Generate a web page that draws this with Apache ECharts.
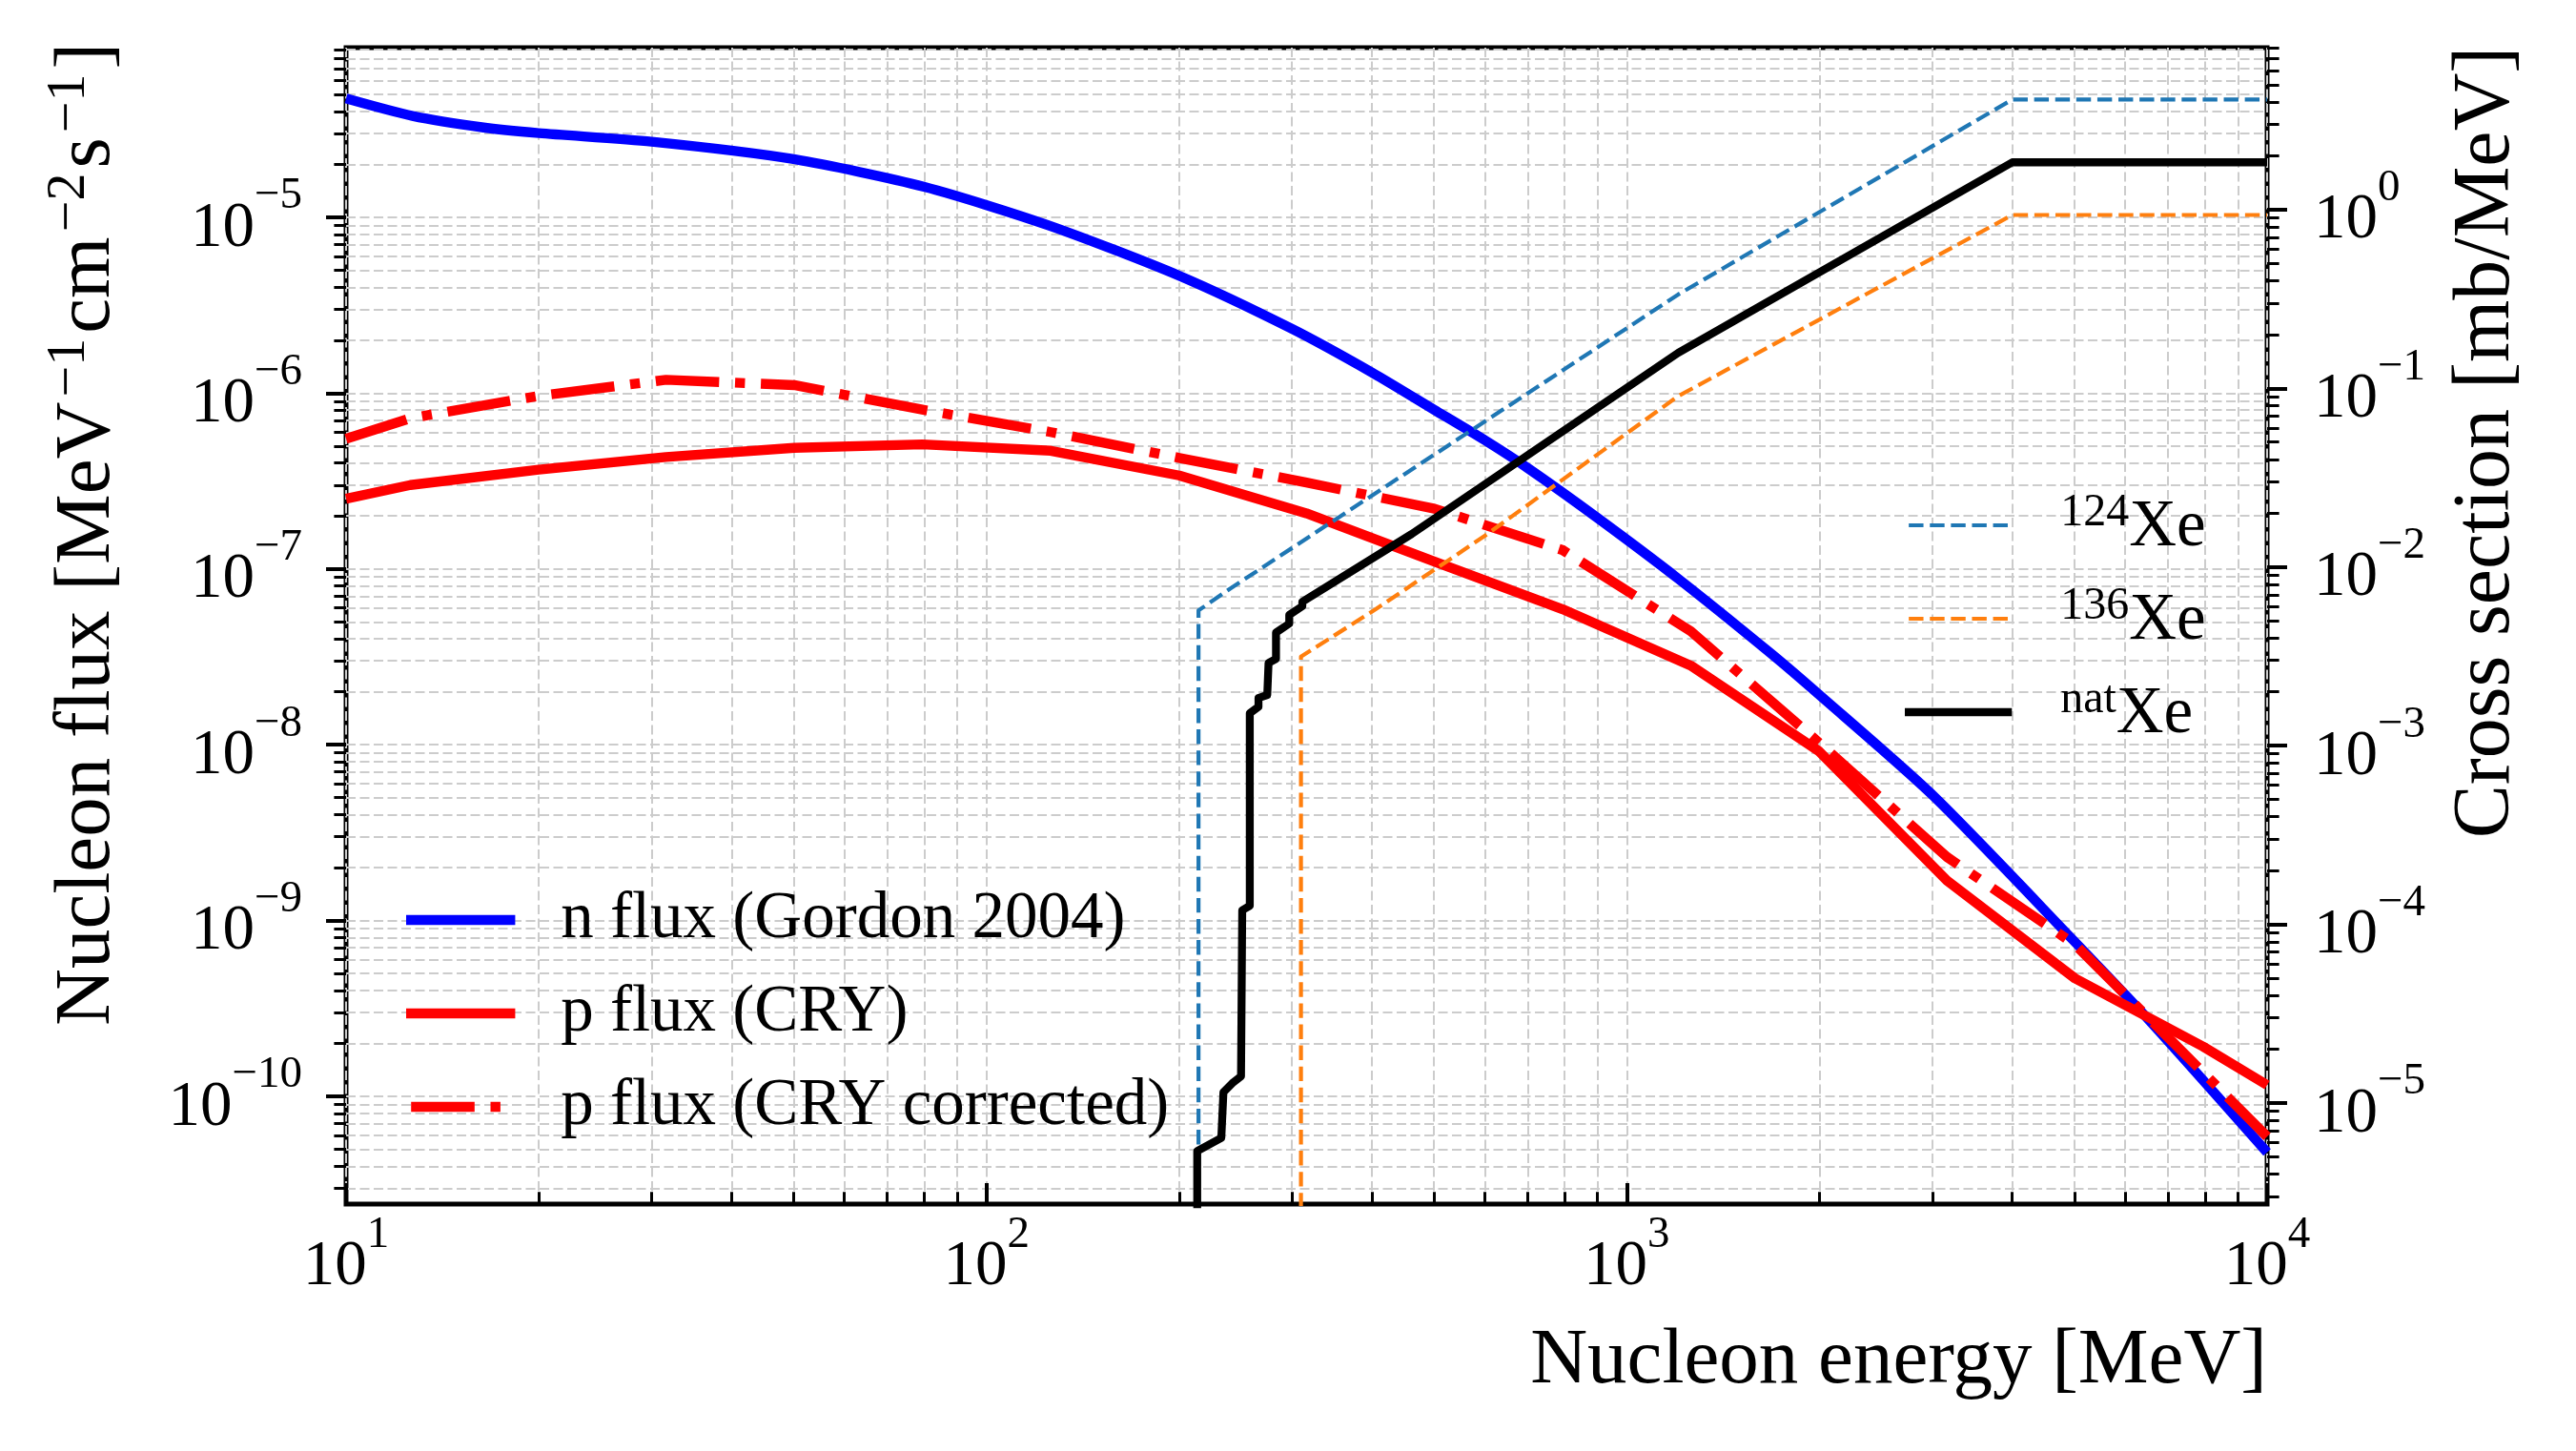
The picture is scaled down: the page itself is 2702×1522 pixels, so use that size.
<!DOCTYPE html>
<html><head><meta charset="utf-8">
<script src="https://cdn.jsdelivr.net/npm/echarts@6/dist/echarts.min.js"></script>
<style>html,body{margin:0;padding:0;background:#fff}#c{width:2702px;height:1522px}</style>
</head><body><div id="c"></div>
<script>
// ---------------- data ----------------
const energyN = [10, 12.7, 16.3, 20, 30, 50, 80, 125, 200, 300, 400, 500, 600, 700, 900, 1203, 1680, 1989, 3006, 4977, 6556, 10000];
const fluxN = [4.74e-5, 3.77e-5, 3.25e-5, 3.01e-5, 2.69e-5, 2.14e-5, 1.49e-5, 9.0e-6, 4.65e-6, 2.32e-6, 1.31e-6, 8.05e-7, 5.4e-7, 3.75e-7, 1.95e-7, 8.8e-8, 3.3e-8, 1.95e-8, 5.15e-9, 7.75e-10, 2.69e-10, 4.8e-11];
const energyP = [10, 12.6, 20, 31.6, 50.1, 79.4, 126, 200, 316, 501, 794, 1259, 1995, 3162, 5012, 7943, 10000];
const fluxP = [2.51e-7, 3.0e-7, 3.67e-7, 4.33e-7, 4.88e-7, 5.11e-7, 4.7e-7, 3.4e-7, 2.07e-7, 1.1e-7, 5.9e-8, 2.82e-8, 9.2e-9, 1.69e-9, 4.69e-10, 1.92e-10, 1.16e-10];
const fluxPCorr = [5.5e-7, 7.2e-7, 9.64e-7, 1.19e-6, 1.11e-6, 8.05e-7, 6.0e-7, 4.28e-7, 3.1e-7, 2.2e-7, 1.28e-7, 4.42e-8, 1.03e-8, 2.3e-9, 7.3e-10, 1.37e-10, 5.9e-11];
const energyXe124 = [214.4, 214.4, 240.2, 1203, 4000, 10000];
const xsXe124 = [1e-7, 5.71e-3, 7.56e-3, 0.335, 4.13, 4.13];
const energyXe136 = [309.9, 309.9, 406, 606, 794, 1203, 4000, 10000];
const xsXe136 = [1e-7, 3.15e-3, 5.82e-3, 0.0153, 0.0308, 0.0904, 0.933, 0.933];
const energyXeNat = [213.4, 213.4, 232.7, 234.5, 242.0, 249.8, 250.9, 257.8, 257.8, 266.0, 266.0, 274.5, 275.8, 283.3, 283.3, 297.1, 297.1, 311.4, 311.4, 461.5, 1203, 4000, 10000];
const xsXeNat = [1e-7, 5.39e-6, 6.38e-6, 1.15e-5, 1.29e-5, 1.41e-5, 1.20e-4, 1.27e-4, 1.52e-3, 1.65e-3, 1.85e-3, 1.92e-3, 2.90e-3, 3.06e-3, 4.30e-3, 4.82e-3, 5.39e-3, 6.03e-3, 6.38e-3, 0.0153, 0.158, 1.84, 1.84];

const seriesNames = ['n flux (Gordon 2004)', 'p flux (CRY)', 'p flux (CRY corrected)', '124Xe', '136Xe', 'natXe'];
const xeLabels = { '124Xe': ['124', 'Xe'], '136Xe': ['136', 'Xe'], 'natXe': ['nat', 'Xe'] };

const xRange = [10, 10000];
const yLeftRange = [2.44e-11, 9.22e-5];
const yRightRange = [2.72e-6, 8.06];
const xMajorTicks = [10, 100, 1000, 10000];
const yLeftMajorTicks = [1e-10, 1e-9, 1e-8, 1e-7, 1e-6, 1e-5];
const yRightMajorTicks = [1e-5, 1e-4, 1e-3, 1e-2, 1e-1, 1];

const xTitle = 'Nucleon energy [MeV]';
const yLeftTitle = '{t|Nucleon flux [MeV}{s|\u22121}{t|cm}{s|\u22122}{t|s}{s|\u22121}{t|]}';
const yRightTitle = 'Cross section [mb/MeV]';

// ---------------- helpers ----------------
function minorTicks(lo, hi) {
  const out = [];
  for (let e = Math.floor(Math.log10(lo)); e <= Math.ceil(Math.log10(hi)); e++) {
    for (let k = 2; k <= 9; k++) {
      const v = parseFloat((k * Math.pow(10, e)).toPrecision(6));
      if (v >= lo && v <= hi) out.push(v);
    }
  }
  return out;
}
function pairs(xs, ys) { return xs.map((x, i) => [x, ys[i]]); }
function powLabel(v) {
  const e = Math.round(Math.log10(v));
  return '{b|10}{s|' + (e < 0 ? '\u2212' + (-e) : String(e)) + '}';
}

const serif = "'Liberation Serif', 'Times New Roman', serif";
const tickRich = {
  b: { fontFamily: serif, fontSize: 67, color: '#000', padding: [24, 0, 0, 0] },
  s: { fontFamily: serif, fontSize: 47, color: '#000', verticalAlign: 'top' }
};
const gridLine = { show: true, lineStyle: { color: '#cccccc', width: 2, type: [10, 4.5] } };
const hiddenSymbol = { opacity: 0, borderWidth: 0, color: 'rgba(0,0,0,0)' };

function logAxis(range, extra) {
  return Object.assign({
    type: 'log', logBase: 10, min: range[0], max: range[1],
    axisLine: { show: false },
    splitLine: { show: false },
    minorTick: { show: false },
    minorSplitLine: { show: false },
    nameMoveOverlap: false
  }, extra);
}

const chart = echarts.init(document.getElementById('c'));
const option = {
  animation: false,
  backgroundColor: '#ffffff',
  grid: {
    left: 363, right: 324, top: 50, bottom: 259,
    show: true, borderColor: '#000', borderWidth: 5, backgroundColor: 'transparent',
    containLabel: false, outerBoundsMode: 'none'
  },
  xAxis: [
    logAxis(xRange, {
      position: 'bottom',
      axisTick: { show: true, inside: true, length: 22, customValues: xMajorTicks, lineStyle: { color: '#000', width: 4 } },
      axisLabel: { show: true, customValues: xMajorTicks, formatter: powLabel, rich: tickRich, margin: 9, showMinLabel: true, showMaxLabel: true, hideOverlap: false },
      splitLine: gridLine,
      name: xTitle, nameLocation: 'end', nameGap: 0,
      nameTextStyle: { fontFamily: serif, fontSize: 83, color: '#000', align: 'right', verticalAlign: 'top', lineHeight: 83, padding: [124, 0, 0, 0] }
    }),
    logAxis(xRange, {
      position: 'bottom',
      axisTick: { show: true, inside: true, length: 12.7, customValues: minorTicks(xRange[0], xRange[1]), lineStyle: { color: '#000', width: 3 } },
      axisLabel: { show: false },
      splitLine: gridLine
    })
  ],
  yAxis: [
    logAxis(yLeftRange, {
      position: 'left',
      axisTick: { show: true, inside: false, length: 21, customValues: yLeftMajorTicks, lineStyle: { color: '#000', width: 4 } },
      axisLabel: { show: true, customValues: yLeftMajorTicks, formatter: powLabel, rich: tickRich, margin: 46, showMinLabel: true, showMaxLabel: true, hideOverlap: false },
      splitLine: gridLine,
      name: yLeftTitle, nameLocation: 'middle', nameGap: 229,
      nameTextStyle: {
        fontFamily: serif, color: '#000', padding: [0, 0, 0, 192],
        rich: {
          t: { fontFamily: serif, fontSize: 83, color: '#000', padding: [7.5, 0, 0, 0] },
          s: { fontFamily: serif, fontSize: 58, color: '#000', verticalAlign: 'top', padding: [0, 5, 0, 5] }
        }
      }
    }),
    logAxis(yLeftRange, {
      position: 'left',
      axisTick: { show: true, inside: false, length: 12.6, customValues: minorTicks(yLeftRange[0], yLeftRange[1]), lineStyle: { color: '#000', width: 3 } },
      axisLabel: { show: false },
      splitLine: gridLine
    }),
    logAxis(yRightRange, {
      position: 'right',
      axisTick: { show: true, inside: false, length: 21, customValues: yRightMajorTicks, lineStyle: { color: '#000', width: 4 } },
      axisLabel: { show: true, customValues: yRightMajorTicks, formatter: powLabel, rich: tickRich, margin: 49, showMinLabel: true, showMaxLabel: true, hideOverlap: false },
      name: yRightTitle, nameLocation: 'middle', nameGap: 189,
      nameTextStyle: { fontFamily: serif, fontSize: 84, lineHeight: 84, color: '#000', padding: [0, 0, 0, 385] }
    }),
    logAxis(yRightRange, {
      position: 'right',
      axisTick: { show: true, inside: false, length: 12.6, customValues: minorTicks(yRightRange[0], yRightRange[1]), lineStyle: { color: '#000', width: 3 } },
      axisLabel: { show: false }
    })
  ],
  legend: [
    {
      orient: 'vertical', left: 426, top: 930, padding: 0,
      itemWidth: 104, itemHeight: 20, itemGap: 28, selectedMode: false,
      textStyle: { fontFamily: serif, fontSize: 69, lineHeight: 70, color: '#000', padding: [0, 0, 0, 48] },
      data: [
        { name: seriesNames[0], itemStyle: hiddenSymbol, lineStyle: { color: '#0000ff', width: 10.4, type: 'solid', cap: 'square' } },
        { name: seriesNames[1], itemStyle: hiddenSymbol, lineStyle: { color: '#ff0000', width: 10.4, type: 'solid', cap: 'square' } },
        { name: seriesNames[2], itemStyle: hiddenSymbol, lineStyle: { color: '#ff0000', width: 10.4, type: [66.6, 16.7, 10.4, 16.7], cap: 'butt' } }
      ]
    },
    {
      orient: 'vertical', left: 1998, top: 514, padding: 0,
      itemWidth: 104, itemHeight: 20, itemGap: 24, selectedMode: false,
      formatter: function (name) { const p = xeLabels[name]; return '{s|' + p[0] + '}{b|' + p[1] + '}'; },
      textStyle: {
        color: '#000', padding: [0, 0, 0, 50],
        rich: {
          b: { fontFamily: serif, fontSize: 69, color: '#000', padding: [5, 0, 0, 0] },
          s: { fontFamily: serif, fontSize: 48, color: '#000', verticalAlign: 'top' }
        }
      },
      data: [
        { name: seriesNames[3], itemStyle: hiddenSymbol, lineStyle: { color: '#1f77b4', width: 4.2, type: [15.4, 6.7], cap: 'butt' } },
        { name: seriesNames[4], itemStyle: hiddenSymbol, lineStyle: { color: '#ff7f0e', width: 4.2, type: [15.4, 6.7], cap: 'butt' } },
        { name: seriesNames[5], itemStyle: hiddenSymbol, lineStyle: { color: '#000000', width: 8.3, type: 'solid', cap: 'square' } }
      ]
    }
  ],
  series: [
    { name: seriesNames[0], type: 'line', xAxisIndex: 0, yAxisIndex: 0, data: pairs(energyN, fluxN), symbol: 'none', showSymbol: false, clip: true, z: 3, smooth: 0.25,
      lineStyle: { color: '#0000ff', width: 10.4, join: 'round' }, itemStyle: { color: '#0000ff' } },
    { name: seriesNames[1], type: 'line', xAxisIndex: 0, yAxisIndex: 0, data: pairs(energyP, fluxP), symbol: 'none', showSymbol: false, clip: true, z: 3,
      lineStyle: { color: '#ff0000', width: 10.4, join: 'round' }, itemStyle: { color: '#ff0000' } },
    { name: seriesNames[2], type: 'line', xAxisIndex: 0, yAxisIndex: 0, data: pairs(energyP, fluxPCorr), symbol: 'none', showSymbol: false, clip: true, z: 3,
      lineStyle: { color: '#ff0000', width: 10.4, type: [66.6, 16.7, 10.4, 16.7], join: 'round' }, itemStyle: { color: '#ff0000' } },
    { name: seriesNames[3], type: 'line', xAxisIndex: 0, yAxisIndex: 2, data: pairs(energyXe124, xsXe124), symbol: 'none', showSymbol: false, clip: true, z: 4,
      lineStyle: { color: '#1f77b4', width: 4.2, type: [15.4, 6.7], join: 'round' }, itemStyle: { color: '#1f77b4' } },
    { name: seriesNames[4], type: 'line', xAxisIndex: 0, yAxisIndex: 2, data: pairs(energyXe136, xsXe136), symbol: 'none', showSymbol: false, clip: true, z: 4,
      lineStyle: { color: '#ff7f0e', width: 4.2, type: [15.4, 6.7], join: 'round' }, itemStyle: { color: '#ff7f0e' } },
    { name: seriesNames[5], type: 'line', xAxisIndex: 0, yAxisIndex: 2, data: pairs(energyXeNat, xsXeNat), symbol: 'none', showSymbol: false, clip: true, z: 4,
      lineStyle: { color: '#000000', width: 8.3, join: 'round' }, itemStyle: { color: '#000000' } }
  ]
};
chart.setOption(option);
</script>
</body></html>
